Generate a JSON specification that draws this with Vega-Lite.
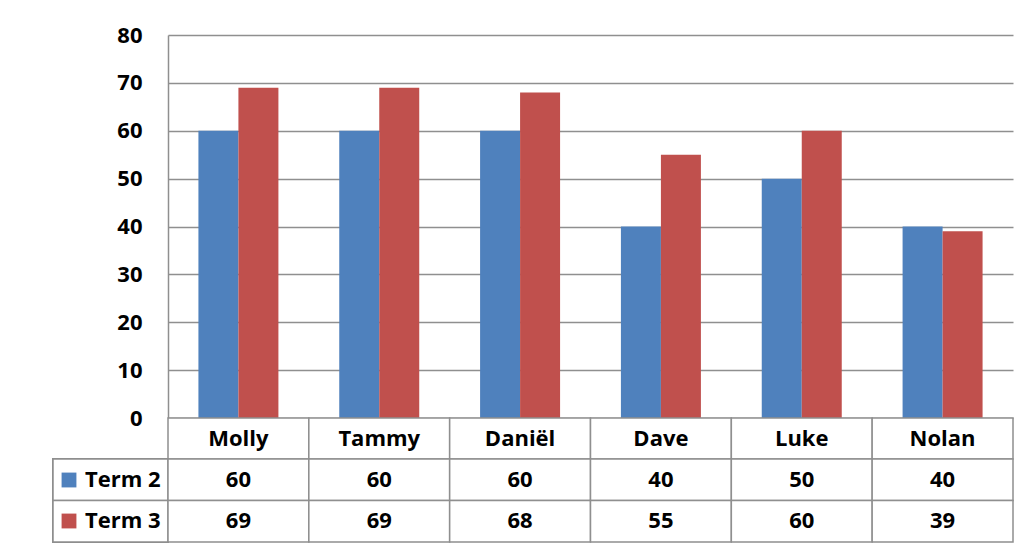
{
  "$schema": "https://vega.github.io/schema/vega-lite/v6.json",
  "padding": {"left": 52, "top": 24, "right": 5, "bottom": 5},
  "background": "white",
  "data": {
    "values": [
      {"name": "Molly", "term": "Term 2", "score": 60},
      {"name": "Molly", "term": "Term 3", "score": 69},
      {"name": "Tammy", "term": "Term 2", "score": 60},
      {"name": "Tammy", "term": "Term 3", "score": 69},
      {"name": "Daniël", "term": "Term 2", "score": 60},
      {"name": "Daniël", "term": "Term 3", "score": 68},
      {"name": "Dave", "term": "Term 2", "score": 40},
      {"name": "Dave", "term": "Term 3", "score": 55},
      {"name": "Luke", "term": "Term 2", "score": 50},
      {"name": "Luke", "term": "Term 3", "score": 60},
      {"name": "Nolan", "term": "Term 2", "score": 40},
      {"name": "Nolan", "term": "Term 3", "score": 39}
    ]
  },
  "columns": 2,
  "spacing": 0,
  "bounds": "flush",
  "resolve": {"scale": {"x": "independent", "y": "independent", "color": "independent"}},
  "config": {
    "view": {"stroke": null},
    "font": "Open Sans",
    "text": {"font": "Open Sans", "fontSize": 22, "fontWeight": "bold", "color": "#000000"}
  },
  "concat": [
    {
      "width": 115,
      "height": 383,
      "mark": {"type": "text"},
      "encoding": {"text": {"value": ""}}
    },
    {
      "width": 845,
      "height": 383,
      "mark": {"type": "bar"},
      "encoding": {
        "x": {"field": "name", "type": "nominal", "sort": null, "scale": {"paddingInner": 0.432, "paddingOuter": 0.216}, "axis": null},
        "xOffset": {"field": "term", "type": "nominal", "sort": null},
        "y": {
          "field": "score", "type": "quantitative",
          "scale": {"domain": [0, 80]},
          "axis": {
            "values": [0, 10, 20, 30, 40, 50, 60, 70, 80],
            "title": null, "grid": true, "gridColor": "#8f8f8f", "gridWidth": 1.5,
            "domainColor": "#8f8f8f", "domainWidth": 1.5, "ticks": false,
            "labelPadding": 26, "labelFont": "Open Sans", "labelFontSize": 22,
            "labelFontWeight": "bold", "labelColor": "#000000"
          }
        },
        "color": {"field": "term", "type": "nominal", "scale": {"domain": ["Term 2", "Term 3"], "range": ["#4F81BD", "#C0504D"]}, "legend": null}
      }
    },
    {
      "width": 115,
      "height": 41,
      "mark": {"type": "text"},
      "encoding": {"text": {"value": ""}}
    },
    {
      "width": 845,
      "height": 41,
      "transform": [{"filter": "datum.term === 'Term 2'"}],
      "encoding": {
        "x": {"field": "name", "type": "nominal", "sort": null, "scale": {"paddingInner": 0, "paddingOuter": 0}, "axis": null}
      },
      "layer": [
        {"mark": {"type": "rect", "fill": "#ffffff", "stroke": "#8f8f8f", "strokeWidth": 1.5}},
        {"mark": {"type": "text"}, "encoding": {"text": {"field": "name"}}}
      ]
    },
    {
      "width": 115,
      "height": 83,
      "encoding": {
        "y": {"field": "term", "type": "nominal", "sort": null, "scale": {"paddingInner": 0, "paddingOuter": 0}, "axis": null}
      },
      "layer": [
        {"mark": {"type": "rect", "fill": "#ffffff", "stroke": "#8f8f8f", "strokeWidth": 1.5}},
        {
          "mark": {"type": "text"},
          "encoding": {
            "text": {"value": ""},
            "color": {
              "field": "term", "type": "nominal",
              "scale": {"domain": ["Term 2", "Term 3"], "range": ["#4F81BD", "#C0504D"]},
              "legend": {
                "orient": "none", "legendX": 5, "legendY": 10, "padding": 0, "title": null,
                "symbolType": "square", "symbolSize": 220, "symbolStrokeWidth": 0,
                "labelFont": "Open Sans", "labelFontSize": 22, "labelFontWeight": "bold",
                "labelColor": "#000000", "labelOffset": 5, "rowPadding": 19
              }
            }
          }
        }
      ]
    },
    {
      "width": 845,
      "height": 83,
      "encoding": {
        "x": {"field": "name", "type": "nominal", "sort": null, "scale": {"paddingInner": 0, "paddingOuter": 0}, "axis": null},
        "y": {"field": "term", "type": "nominal", "sort": null, "scale": {"paddingInner": 0, "paddingOuter": 0}, "axis": null}
      },
      "layer": [
        {"mark": {"type": "rect", "fill": "#ffffff", "stroke": "#8f8f8f", "strokeWidth": 1.5}},
        {"mark": {"type": "text"}, "encoding": {"text": {"field": "score", "type": "quantitative"}}}
      ]
    }
  ]
}
